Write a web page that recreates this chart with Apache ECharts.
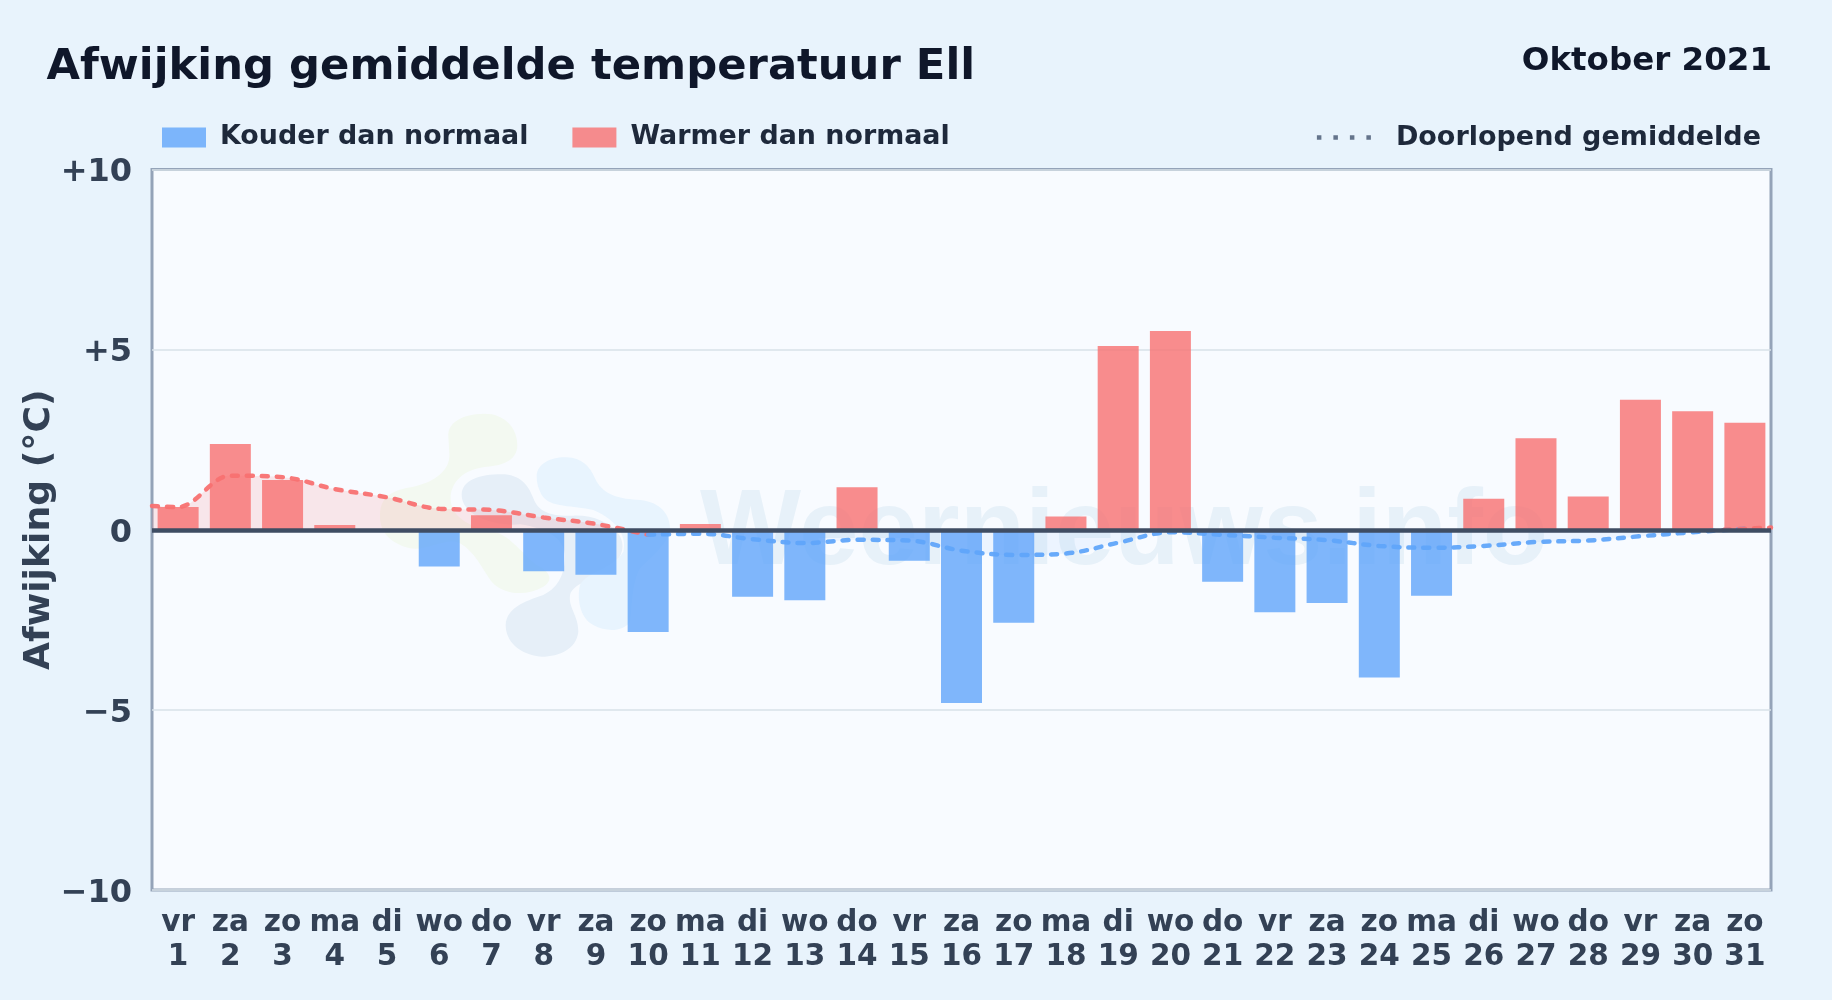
<!DOCTYPE html>
<html><head><meta charset="utf-8">
<style>html,body{margin:0;padding:0;background:#e8f3fc}#c{width:1832px;height:1000px}</style>
<script src="https://cdn.jsdelivr.net/npm/echarts@6/dist/echarts.min.js"></script>
</head><body><div id="c"></div>
<script>
const weekdays=['vr','za','zo','ma','di','wo','do','vr','za','zo','ma','di','wo','do','vr','za','zo','ma','di','wo','do','vr','za','zo','ma','di','wo','do','vr','za','zo'];
const dayNumbers=[1,2,3,4,5,6,7,8,9,10,11,12,13,14,15,16,17,18,19,20,21,22,23,24,25,26,27,28,29,30,31];
const deviation=[0.63,2.38,1.38,0.13,0,-1.02,0.4,-1.15,-1.25,-2.84,0.16,-1.86,-1.96,1.18,-0.86,-4.81,-2.58,0.37,5.1,5.52,-1.44,-2.29,-2.03,-4.1,-1.83,0.86,2.54,0.92,3.61,3.29,2.97];
const runningAvg=[0.63,1.5,1.46,1.13,0.9,0.58,0.55,0.34,0.16,-0.14,-0.11,-0.26,-0.37,-0.28,-0.3,-0.58,-0.7,-0.66,-0.36,-0.07,-0.14,-0.22,-0.29,-0.45,-0.5,-0.45,-0.34,-0.3,-0.18,-0.07,0.03];
const avgLeftEdge=[0.5,0.66];
const avgEndStretch=[[30.6,0],[31,0.03],[31.5,0.06]];
const yTicks={'10':'+10','5':'+5','0':'0','-5':'\u22125','-10':'\u221210'};
const FONT='DejaVu Sans';
const blue='#60a5fa',red='#f87171';
const categories=weekdays.map((w,i)=>w+'\n'+dayNumbers[i]);
const avgPairs=dayNumbers.map((d,i)=>[d,runningAvg[i]]);
const warmLine=[avgLeftEdge].concat(avgPairs.slice(0,10));
const coldLine=avgPairs.slice(9);
const blobScale=1/3;
const chart=echarts.init(document.getElementById('c'));
function blob(name,d,fill){
 echarts.graphic.registerShape(name,echarts.graphic.extendPath(d,{}));
 return {type:name,x:360,y:395,scaleX:blobScale,scaleY:blobScale,z:1,silent:true,shape:{},style:{fill:fill}};
}
chart.setOption({
 animation:false,
 backgroundColor:'#e8f3fc',
 title:[
  {text:'Afwijking gemiddelde temperatuur Ell',left:41.5,top:41,textStyle:{fontFamily:FONT,fontWeight:'bold',fontSize:43.3,color:'#0f172a'}},
  {text:'Oktober 2021',right:55,top:40,textStyle:{fontFamily:FONT,fontWeight:'bold',fontSize:32.5,color:'#0f172a'}}
 ],
 legend:[
  {left:157,top:119,itemWidth:44,itemHeight:20,itemGap:44,selectedMode:false,
   data:[{name:'Kouder dan normaal',icon:'rect',itemStyle:{color:blue,opacity:.8}},{name:'Warmer dan normaal',icon:'rect',itemStyle:{color:red,opacity:.8}}],
   textStyle:{fontFamily:FONT,fontWeight:'bold',fontSize:26.9,color:'#1e293b',padding:[4,0,0,9]}},
  {right:66,top:119,itemWidth:54,itemHeight:5,selectedMode:false,
   data:[{name:'Doorlopend gemiddelde',icon:'path://M0 0h4.5v4.5H0zM16.5 0h4.5v4.5h-4.5zM33 0h4.5v4.5h-4.5zM49.5 0h4.5v4.5h-4.5z',itemStyle:{color:'#64748b',opacity:1}}],
   textStyle:{fontFamily:FONT,fontWeight:'bold',fontSize:27,color:'#1e293b',padding:[4,0,0,20]}}
 ],
 grid:{left:152,right:61,top:169.5,bottom:110,show:true,backgroundColor:'#f8fbff',borderColor:'#94a3b8',borderWidth:3,containLabel:false},
 xAxis:[
  {type:'category',data:categories,boundaryGap:true,position:'bottom',axisLine:{show:false,onZero:false},axisTick:{show:false},splitLine:{show:false},
   axisLabel:{interval:0,margin:16,fontFamily:FONT,fontWeight:'bold',fontSize:29.5,lineHeight:34,color:'#334155'}},
  {type:'value',min:0.5,max:31.5,show:false,splitLine:{show:false}}
 ],
 yAxis:{type:'value',min:-10,max:10,interval:5,name:'Afwijking (\u00b0C)',nameLocation:'middle',nameRotate:90,nameGap:94,nameMoveOverlap:false,
  nameTextStyle:{fontFamily:FONT,fontWeight:'bold',fontSize:36.2,color:'#334155'},
  axisLine:{show:false},axisTick:{show:false},
  splitLine:{lineStyle:{color:'#d9e2e8',width:1.5}},
  axisLabel:{margin:20,fontFamily:FONT,fontWeight:'bold',fontSize:32,color:'#334155',verticalAlign:'top',lineHeight:7,formatter:v=>yTicks[String(v)]}},
 graphic:{elements:[
  blob('wmGreen','M265 125C262 80 310 58 370 56C430 54 472 95 472 150C472 195 430 212 380 215C320 222 280 250 272 300C268 350 300 390 400 410C450 420 480 470 530 510C580 535 575 560 550 575C500 605 430 600 395 560C365 520 345 470 300 445C260 425 200 470 150 460C90 445 58 410 60 360C62 300 100 285 160 275C225 262 272 225 268 175Z','#f3f9f1'),
  blob('wmSlate','M305 300C305 255 360 238 425 238C480 238 505 270 520 310C535 350 570 365 640 362C700 360 745 380 778 420C795 450 790 480 760 510C720 550 640 560 630 600C625 640 655 660 655 710C650 760 600 785 545 785C480 780 437 740 437 690C440 640 490 620 550 600C600 575 615 530 615 480C612 430 560 400 480 388C400 395 305 360 305 300Z','#e6eff8'),
  blob('wmBlue','M530 245C530 205 575 185 620 187C665 188 690 215 705 250C725 295 770 312 830 314C890 316 930 350 930 400C930 440 880 480 840 520C815 560 815 650 810 680C790 710 740 712 700 690C660 670 650 610 660 570C680 530 760 520 790 470C800 430 780 380 700 345C640 330 570 340 545 300C535 280 530 265 530 245Z','#e8f4fe'),
  {type:'text',x:700,y:588,z:1,silent:true,style:{text:'Weernieuws.info',fontFamily:'Liberation Sans',fontWeight:'bold',fontSize:107,fill:'#e7f1f9',textVerticalAlign:'bottom'}}
 ]},
 series:[
  {name:'Kouder dan normaal',type:'bar',stack:'d',barWidth:41,z:2,itemStyle:{color:blue,opacity:.8},data:deviation.map(v=>v<0?v:null)},
  {name:'Warmer dan normaal',type:'bar',stack:'d',barWidth:41,z:2,itemStyle:{color:red,opacity:.8},data:deviation.map(v=>v>0?v:null)},
  {name:'Doorlopend gemiddelde',type:'line',xAxisIndex:1,smooth:0.35,symbol:'none',z:3,data:warmLine,
   lineStyle:{color:red,width:4.5,type:[6,9],cap:'round',opacity:.95},areaStyle:{color:red,opacity:.15}},
  {name:'Doorlopend gemiddelde',type:'line',xAxisIndex:1,smooth:0.35,symbol:'none',z:3,data:coldLine,
   lineStyle:{color:blue,width:4.5,type:[6,9],cap:'round',opacity:.95},areaStyle:{color:blue,opacity:.08}},
  {name:'Doorlopend gemiddelde',type:'line',xAxisIndex:1,smooth:0.35,symbol:'none',z:3,data:avgEndStretch,
   lineStyle:{color:red,width:4.5,type:[6,9],cap:'round',opacity:.95},
   markLine:{silent:true,symbol:'none',label:{show:false},lineStyle:{color:'#3f4d63',width:4.5,type:'solid'},data:[{yAxis:0}]}}
 ]
});
</script></body></html>
